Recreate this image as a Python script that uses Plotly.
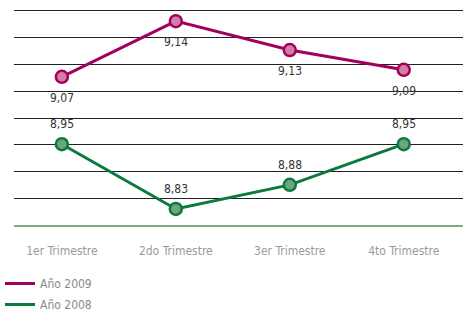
import plotly.graph_objects as go

categories = ["1er Trimestre", "2do Trimestre", "3er Trimestre", "4to Trimestre"]
# plotted positions and the printed labels
y_2009 = [9.077, 9.181, 9.127, 9.090]
y_2008 = [8.951, 8.830, 8.875, 8.951]
labels_2009 = ["9,07", "9,14", "9,13", "9,09"]
labels_2008 = ["8,95", "8,83", "8,88", "8,95"]
series_names = ["Año 2009", "Año 2008"]

c2009 = "#a3005d"
c2009_fill = "#d27fa6"
c2008 = "#0a7a3e"
c2008_fill = "#6ea57e"
font_fam = "DejaVu Sans Condensed"

fig = go.Figure()
fig.add_trace(go.Scatter(
    x=categories, y=y_2009, mode="lines+markers", showlegend=False, cliponaxis=False,
    line=dict(color=c2009, width=3),
    marker=dict(size=12, color=c2009_fill, line=dict(color=c2009, width=2.5)),
))
fig.add_trace(go.Scatter(
    x=categories, y=y_2008, mode="lines+markers", showlegend=False, cliponaxis=False,
    line=dict(color=c2008, width=3),
    marker=dict(size=12, color=c2008_fill, line=dict(color=c2008, width=2.5)),
))
# legend-only entries (line only)
for name, col in zip(series_names, [c2009, c2008]):
    fig.add_trace(go.Scatter(x=[None], y=[None], mode="lines", name=name,
                             legendgroup=name,
                             line=dict(color=col, width=3)))

annotations = []
for cat, yv, lab in zip(categories, y_2009, labels_2009):
    annotations.append(dict(x=cat, y=yv, text=lab, showarrow=False, yshift=-21,
                            font=dict(size=12, color="#333333", family=font_fam)))
for cat, yv, lab in zip(categories, y_2008, labels_2008):
    annotations.append(dict(x=cat, y=yv, text=lab, showarrow=False, yshift=20,
                            font=dict(size=12, color="#333333", family=font_fam)))

fig.update_layout(
    width=467, height=315,
    margin=dict(l=14, r=4, t=5, b=90, autoexpand=False),
    paper_bgcolor="white", plot_bgcolor="white",
    font=dict(family=font_fam, size=12, color="#999999"),
    annotations=annotations,
    xaxis=dict(
        type="category", range=[-0.42, 3.52], showgrid=False, zeroline=False,
        showline=True, linecolor="#7faa88", linewidth=2, ticks="",
        tickfont=dict(size=12, color="#9a9a9a", family=font_fam),
        ticklabelstandoff=14, automargin=False,
    ),
    yaxis=dict(
        range=[8.80, 9.2112], tick0=8.80, dtick=0.05, showticklabels=False,
        showgrid=True, gridcolor="#222222", gridwidth=1, zeroline=False,
        fixedrange=True, automargin=False,
    ),
    legend=dict(
        xref="container", yref="container", x=0.0, y=0.146,
        xanchor="left", yanchor="top", itemwidth=30,
        font=dict(size=12, color="#8a8a8a", family=font_fam),
        tracegroupgap=2,
    ),
)

fig.write_html("out.html", config={"displayModeBar": False},
               post_script="document.body.style.margin='0';")
